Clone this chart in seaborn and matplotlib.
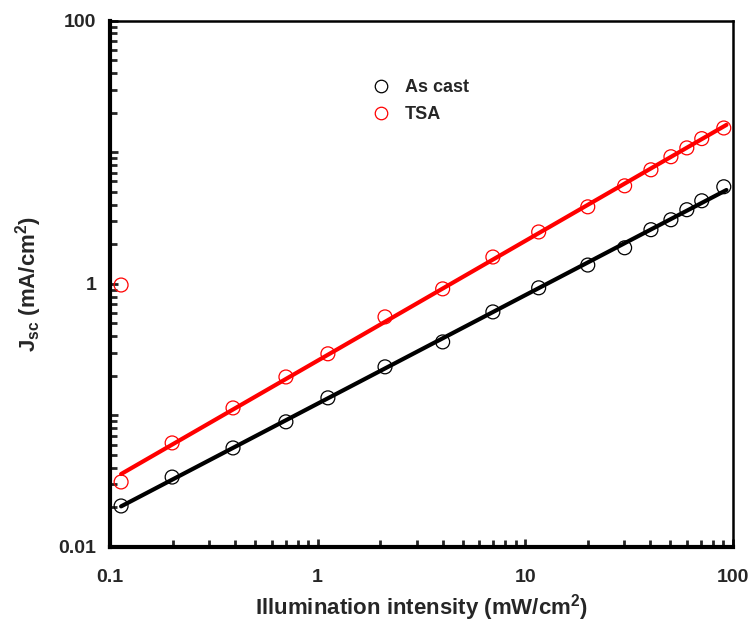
import numpy as np
import pandas as pd
import seaborn as sns
import matplotlib
matplotlib.use("Agg")
import matplotlib.pyplot as plt
from matplotlib.ticker import LogLocator, NullFormatter, FuncFormatter

# light intensity (mW/cm2)
intensity = [0.113, 0.199, 0.391, 0.703, 1.12, 2.11, 4.0, 6.98, 11.6, 20.0,
             30.1, 40.3, 50.3, 60.0, 70.8, 90.4]
# Jsc (mA/cm2)
jsc_as_cast = [0.0205, 0.034, 0.0566, 0.0894, 0.136, 0.234, 0.362, 0.612, 0.933,
               1.39, 1.88, 2.58, 3.07, 3.66, 4.28, 5.47]
jsc_tsa = [0.0312, 0.0618, 0.114, 0.196, 0.294, 0.561, 0.916, 1.60, 2.48,
           3.85, 5.56, 7.36, 9.25, 10.8, 12.7, 15.3]
# stray TSA point at the lowest intensity
tsa_extra_x = [0.113]
tsa_extra_y = [0.98]

sns.set_style("white")
plt.rcParams["font.family"] = ["Liberation Sans", "DejaVu Sans"]
plt.rcParams["font.weight"] = "bold"

df = pd.DataFrame({
    "x": intensity * 2 + tsa_extra_x,
    "y": jsc_as_cast + jsc_tsa + tsa_extra_y,
    "sample": ["As cast"] * len(intensity) + ["TSA"] * (len(intensity) + 1),
})

fig = plt.figure(figsize=(7.54, 6.28), dpi=100)
ax = fig.add_axes([0.146, 0.129, 0.826, 0.838])

colors = {"As cast": "black", "TSA": "red"}

# power-law fits in log space
for name, ys in [("As cast", jsc_as_cast), ("TSA", jsc_tsa)]:
    k, b = np.polyfit(np.log10(intensity), np.log10(ys), 1)
    xf = np.array([min(intensity), max(intensity) * 1.03])
    sns.lineplot(x=xf, y=10 ** (k * np.log10(xf) + b), color=colors[name],
                 linewidth=3, ax=ax, legend=False)

sns.scatterplot(data=df, x="x", y="y", ax=ax, marker="o", s=100,
                linewidth=0.9, legend=False)
pts = ax.collections[-1]
pts.set_edgecolor([colors[s] for s in df["sample"]])
pts.set_facecolor("none")

ax.set_xscale("log")
ax.set_yscale("log")
ax.set_xlim(0.1, 100)
ax.set_ylim(0.01, 100)

for axis in [ax.xaxis, ax.yaxis]:
    axis.set_major_locator(LogLocator(base=10, numticks=10))
    axis.set_minor_locator(LogLocator(base=10, subs=np.arange(2, 10), numticks=20))
    axis.set_minor_formatter(NullFormatter())
ax.xaxis.set_major_formatter(FuncFormatter(lambda v, p: f"{v:g}"))
ax.yaxis.set_major_formatter(FuncFormatter(
    lambda v, p: f"{v:g}" if round(np.log10(v)) % 2 == 0 else ""))

ax.tick_params(which="both", direction="in", top=False, right=False,
               left=True, bottom=True, labelsize=14)
ax.tick_params(axis="x", which="both", pad=16)
ax.tick_params(axis="y", which="both", pad=10)
ax.tick_params(which="major", length=6, width=2)
ax.tick_params(which="minor", length=5, width=2)
for lab in ax.get_xticklabels() + ax.get_yticklabels():
    lab.set_fontweight("bold")

for side in ["left", "bottom"]:
    ax.spines[side].set_linewidth(3)
for side in ["top", "right"]:
    ax.spines[side].set_linewidth(1.8)
for s in ax.spines.values():
    s.set_color("black")

ax.set_xlabel(r"Illumination intensity (mW/cm$^\mathregular{2}$)",
              fontsize=16, fontweight="bold", labelpad=4)
ax.set_ylabel(r"J$_\mathregular{sc}$ (mA/cm$^\mathregular{2}$)",
              fontsize=16, fontweight="bold", labelpad=10)

handles = [
    plt.Line2D([], [], marker="o", linestyle="none", markersize=9,
               markerfacecolor="none", markeredgecolor=colors[n], markeredgewidth=0.9)
    for n in ["As cast", "TSA"]
]
ax.legend(handles, ["As cast", "TSA"], loc="upper left",
          bbox_to_anchor=(0.38, 0.92), frameon=False,
          prop={"weight": "bold", "size": 13}, handletextpad=0.3,
          labelspacing=0.55)

fig.savefig("out.png", dpi=100)
